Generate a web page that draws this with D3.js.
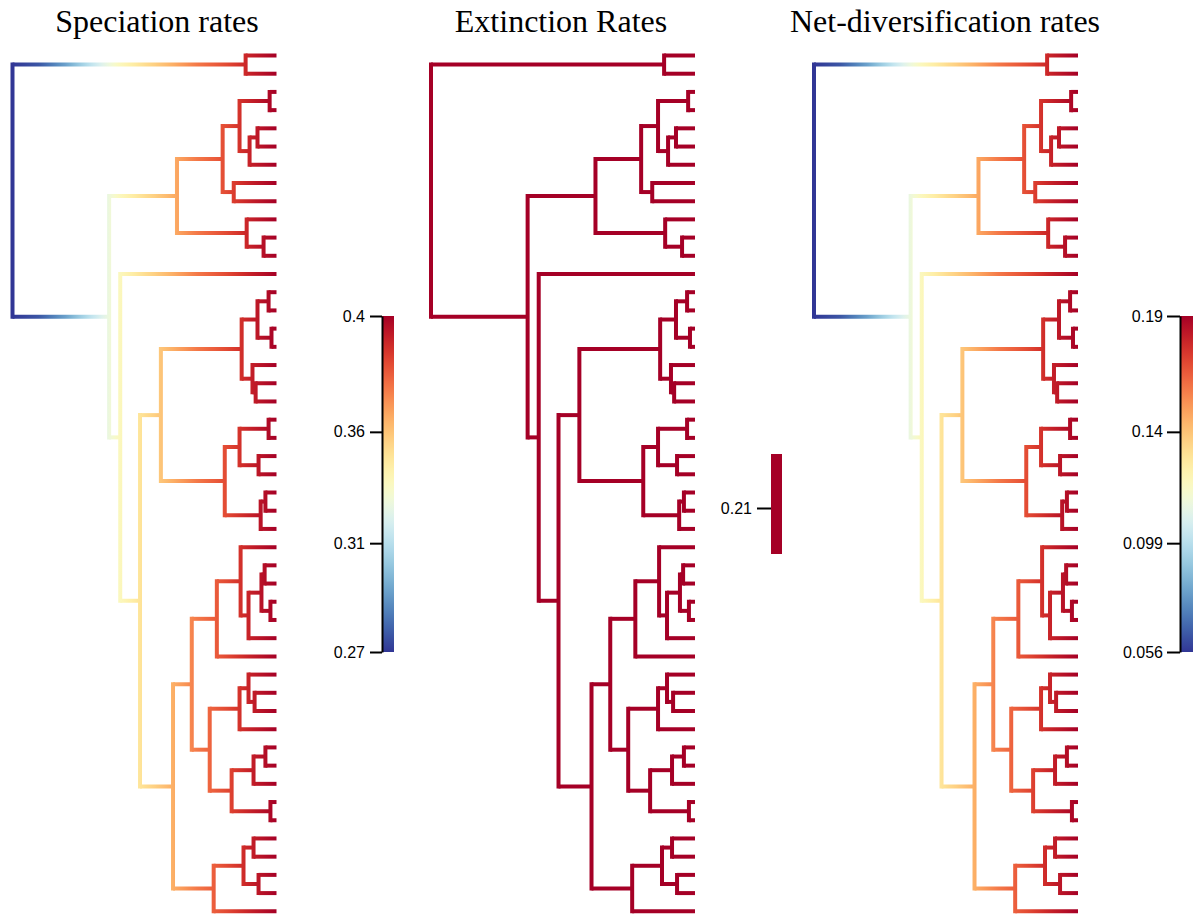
<!DOCTYPE html>
<html>
<head>
<meta charset="utf-8">
<script src="https://cdn.jsdelivr.net/npm/d3@7"></script>
<style>
  html, body { margin: 0; padding: 0; background: #ffffff; }
  svg { display: block; }
</style>
</head>
<body>
<svg id="chart" width="1195" height="916"></svg>
<script>
// ------------------------------------------------------------------
// DATA
// ------------------------------------------------------------------
// Tree topology (tips t1..t48 top to bottom, internal nodes labelled), built from clades
const cladeC  = "((((t3,t4)n34,((t5,t6)n56,t7)F)E,(t8,t9)n89)D,(t10,(t11,t12)n1112)G)C";
const cladeK  = "(((t14,t15)n1415,(t16,t17)n1617)L,(t18,(t19,t20)n1920)M)K";
const cladeN  = "(((t21,t22)n2122,(t23,t24)n2324)O,((t25,t26)n2526,t27)P)N";
const cladeS  = "((t28,(((t29,t30)n2930,(t31,t32)n3132)V,t33)U)T,t34)S";
const cladeW  = "(((t35,(t36,t37)n3637)Y,t38)X,(((t39,t40)n3940,t41)AA,(t42,t43)n4243)Z)W";
const cladeAB = "(((t44,t45)n4445,(t46,t47)n4647)AC,t48)AB";
const treeTopology =
  `((t1,t2)A,(${cladeC},(t13,((${cladeK},${cladeN})J,((${cladeS},${cladeW})R,${cladeAB})Q)I)H)B)root;`;

// Internal node names and their times (root = 0, present = 100)
const internalNodes = ["root","A","B","C","D","E","n34","F","n56","n89","G","n1112",
  "H","I","J","K","L","n1415","n1617","M","n1920","N","O","n2122","n2324","P","n2526",
  "Q","R","S","T","U","V","n2930","n3132","W","X","Y","n3637","Z","AA","n3940","n4243",
  "AB","AC","n4445","n4647"];
const internalNodeTimes = [0, 88.3, 36.6, 62.3, 79.6, 86.0, 97.4, 89.8, 92.8, 83.8, 88.7, 95.1,
  40.8, 48.3, 56.2, 86.8, 92.8, 97.0, 98.1, 90.9, 92.1, 80.4, 86.0, 97.0, 93.2, 94.0, 95.8,
  60.8, 67.9, 77.4, 86.4, 89.4, 94.3, 95.5, 97.7, 74.7, 86.0, 89.4, 91.7, 83.0, 91.3, 95.8, 97.7,
  76.2, 87.5, 91.3, 93.2];
const presentTime = 100;

// Rates through time
const rateTimes        = [0,     10,    20,    30,    40,    50,    60,    70,    80,    90,    100];
const speciationRates  = [0.266, 0.273, 0.290, 0.312, 0.333, 0.346, 0.358, 0.371, 0.380, 0.391, 0.400];
const extinctionRates  = [0.21,  0.21,  0.21,  0.21,  0.21,  0.21,  0.21,  0.21,  0.21,  0.21,  0.21];
const netDivRates      = speciationRates.map((s, i) => +(s - extinctionRates[i]).toFixed(4));

const panelTitles = ["Speciation rates", "Extinction Rates", "Net-diversification rates"];

// Legend ticks
const speciationTickValues = [0.266, 0.3094, 0.3538, 0.400];
const speciationTickLabels = ["0.27", "0.31", "0.36", "0.4"];
const extinctionTickValues = [0.21];
const extinctionTickLabels = ["0.21"];
const netDivTickValues = [0.056, 0.0994, 0.1438, 0.190];
const netDivTickLabels = ["0.056", "0.099", "0.14", "0.19"];

// ------------------------------------------------------------------
// LAYOUT
// ------------------------------------------------------------------
const svg = d3.select("#chart");
const defs = svg.append("defs");

function parseNewick(s) {
  let i = 0;
  function node() {
    const n = { children: [] };
    if (s[i] === "(") {
      i++;
      n.children.push(node());
      while (s[i] === ",") { i++; n.children.push(node()); }
      i++; // ')'
    }
    let name = "";
    while (i < s.length && !",();".includes(s[i])) name += s[i++];
    n.name = name;
    return n;
  }
  return node();
}

const tree = d3.hierarchy(parseNewick(treeTopology), d => d.children.length ? d.children : null);
const timeByName = new Map(internalNodes.map((n, i) => [n, internalNodeTimes[i]]));
tree.each(d => { d.time = d.children ? timeByName.get(d.data.name) : presentTime; });

const leaves = tree.leaves();
const yTip = d3.scaleLinear().domain([0, leaves.length - 1]).range([55.5, 911.3]);
leaves.forEach((d, i) => { d.yPos = yTip(i); });
tree.eachAfter(d => {
  if (d.children) d.yPos = (d.children[0].yPos + d.children[d.children.length - 1].yPos) / 2;
});

const panels = [
  { title: panelTitles[0], titleX: 157, rates: speciationRates, xRange: [12.5, 276.5],
    legend: { x: 382, w: 12, y: [652, 316], ticks: speciationTickValues, labels: speciationTickLabels,
              domainLine: true, tickSize: 12, pad: 5 } },
  { title: panelTitles[1], titleX: 561, rates: extinctionRates, xRange: [431, 695],
    legend: { x: 771, w: 11, y: [554, 454], ticks: extinctionTickValues, labels: extinctionTickLabels,
              domainLine: false, tickSize: 14, pad: 5 } },
  { title: panelTitles[2], titleX: 945, rates: netDivRates, xRange: [814, 1078],
    legend: { x: 1180, w: 13, y: [652, 316], ticks: netDivTickValues, labels: netDivTickLabels,
              domainLine: true, tickSize: 13, pad: 4 } }
];

panels.forEach((p, pi) => {
  const rMin = d3.min(p.rates), rMax = d3.max(p.rates);
  const flat = rMax - rMin < 1e-9;
  const colorOf = v => flat ? d3.interpolateRdYlBu(0) : d3.interpolateRdYlBu(1 - (v - rMin) / (rMax - rMin));
  const rateAt = d3.scaleLinear().domain(rateTimes).range(p.rates);
  const x = d3.scaleLinear().domain([0, presentTime]).range(p.xRange);

  // Gradient along time axis (colour = rate at that time)
  const gid = "treeGrad" + pi;
  const grad = defs.append("linearGradient").attr("id", gid)
    .attr("gradientUnits", "userSpaceOnUse")
    .attr("x1", x(0)).attr("x2", x(presentTime)).attr("y1", 0).attr("y2", 0);
  d3.range(0, presentTime + 0.001, 1).forEach(t => {
    grad.append("stop").attr("offset", t / presentTime).attr("stop-color", colorOf(rateAt(t)));
  });

  const g = svg.append("g");
  // title
  svg.append("text").attr("x", p.titleX).attr("y", 32)
    .attr("text-anchor", "middle")
    .attr("font-family", "'Liberation Serif', 'Times New Roman', Times, serif")
    .attr("font-size", 32).attr("fill", "#000").text(p.title);

  // horizontal branches
  g.selectAll("line.h").data(tree.descendants().filter(d => d.parent)).join("line")
    .attr("class", "h")
    .attr("x1", d => x(d.parent.time)).attr("x2", d => x(d.time))
    .attr("y1", d => d.yPos).attr("y2", d => d.yPos)
    .attr("stroke", `url(#${gid})`).attr("stroke-width", 4).attr("stroke-linecap", "butt");

  // vertical connectors
  g.selectAll("line.v").data(tree.descendants().filter(d => d.children)).join("line")
    .attr("class", "v")
    .attr("x1", d => x(d.time)).attr("x2", d => x(d.time) + 0.001)
    .attr("y1", d => d.children[0].yPos).attr("y2", d => d.children[d.children.length - 1].yPos)
    .attr("stroke", `url(#${gid})`).attr("stroke-width", 4).attr("stroke-linecap", "square");

  // legend
  const L = p.legend;
  const ly = d3.scaleLinear()
    .domain(flat ? [rMin - 0.00092, rMin + 0.00108] : [rMin, rMax]).range(L.y);
  const lgid = "legGrad" + pi;
  const lg = defs.append("linearGradient").attr("id", lgid)
    .attr("gradientUnits", "userSpaceOnUse")
    .attr("x1", 0).attr("x2", 0).attr("y1", L.y[0]).attr("y2", L.y[1]);
  d3.range(0, 1.0001, 0.02).forEach(s => {
    const v = flat ? rMin : rMin + s * (rMax - rMin);
    lg.append("stop").attr("offset", s).attr("stop-color", colorOf(v));
  });
  svg.append("rect")
    .attr("x", L.x).attr("y", L.y[1]).attr("width", L.w).attr("height", L.y[0] - L.y[1])
    .attr("fill", `url(#${lgid})`);

  const axis = d3.axisLeft(ly).tickValues(L.ticks).tickFormat((d, i) => L.labels[i])
    .tickSize(L.tickSize).tickSizeOuter(0).tickPadding(L.pad);
  const ag = svg.append("g").attr("transform", `translate(${L.x},0)`).call(axis)
    .attr("font-family", "'Liberation Sans', Arial, Helvetica, sans-serif").attr("font-size", 16);
  if (L.domainLine) ag.select(".domain").attr("stroke", "#000").attr("stroke-width", 2);
  else ag.select(".domain").remove();
  ag.selectAll(".tick line").attr("stroke", "#000").attr("stroke-width", 2);
  ag.selectAll(".tick text").attr("fill", "#000");
});
</script>
</body>
</html>
